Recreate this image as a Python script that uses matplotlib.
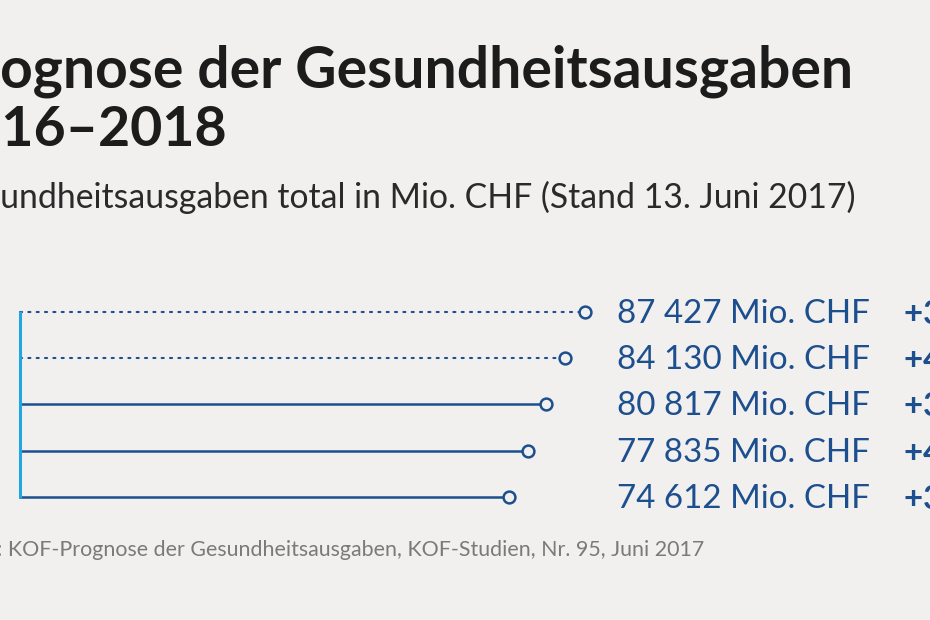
import matplotlib
matplotlib.use("Agg")
import matplotlib.pyplot as plt

years = ["2018", "2017", "2016", "2015", "2014"]
values = [87427, 84130, 80817, 77835, 74612]
labels = ["87 427 Mio. CHF", "84 130 Mio. CHF", "80 817 Mio. CHF", "77 835 Mio. CHF", "74 612 Mio. CHF"]
changes = ["+3,9 %", "+4,1 %", "+3,8 %", "+4,1 %", "+3,6 %"]
forecast = [True, True, False, False, False]

title1 = "KOF-Prognose der Gesundheitsausgaben"
title2 = "2016–2018"
subtitle = "Gesundheitsausgaben total in Mio. CHF (Stand 13. Juni 2017)"
source = "Quelle: KOF-Prognose der Gesundheitsausgaben, KOF-Studien, Nr. 95, Juni 2017"

BG = "#f1f0ef"
BLUE = "#1d4f8e"
CYAN = "#1ea7e1"
W, H = 930, 620

fig = plt.figure(figsize=(W / 100, H / 100), dpi=100, facecolor=BG)
ax = fig.add_axes([0, 0, 1, 1])
ax.set_facecolor(BG)
ax.axis("off")

# pixel <-> data mapping: value axis with baseline at left vertical line
px_per_val = 76 / 12815.0
x0_val = 74612 - 509 / px_per_val
ax.set_xlim(x0_val, x0_val + W / px_per_val)
ax.set_ylim(H, 0)  # y in pixel rows
base_val = x0_val + 20 / px_per_val

row_y = [312, 358, 404, 451, 497]

ax.plot([base_val, base_val], [row_y[0] - 1, row_y[-1] + 1], color=CYAN, lw=2.2,
        solid_capstyle="butt", zorder=3)
for v, y, fc in zip(values, row_y, forecast):
    r_val = 4.5 / px_per_val
    if fc:
        ax.plot([base_val, v - r_val], [y, y], color=BLUE, lw=1.5,
                linestyle=(0, (1, 3.0)), dash_capstyle="round", zorder=2)
    else:
        ax.plot([base_val, v - r_val], [y, y], color=BLUE, lw=1.8, zorder=2)
    ax.plot([v], [y], marker="o", ms=8.5, mfc=BG, mec=BLUE, mew=1.8, zorder=4)

for lab, ch, y in zip(labels, changes, row_y):
    ax.text(617 / W, 1 - (y + 2) / H, lab, transform=fig.transFigure, fontsize=23.9,
            family="Lato", color=BLUE, va="center", ha="left")
    ax.text(904 / W, 1 - (y + 2) / H, ch, transform=fig.transFigure, fontsize=23.9,
            family="Lato", fontweight="bold", color=BLUE, va="center", ha="left")

renderer = fig.canvas.get_renderer()


def cut_text(full, visible_start_char, x_vis_px, y_base_px, **kw):
    prefix = full[:visible_start_char]
    t = fig.text(0, 0, prefix, **kw)
    w = t.get_window_extent(renderer=renderer).width if prefix else 0
    t.remove()
    fig.text((x_vis_px - w) / W, 1 - y_base_px / H, full, va="baseline", ha="left", **kw)


cut_text(title1, 6, 0, 87, fontsize=41, family="Lato", fontweight="bold", color="#1c1c1c")
cut_text(title2, 2, 2, 146, fontsize=40, family="Lato", fontweight="bold", color="#1c1c1c")
cut_text(subtitle, 3, 0, 208, fontsize=24.3, family="Lato", color="#2a2a2a")
cut_text(source, 8, 8, 556, fontsize=15.4, family="Lato", color="#7a7a7a")

fig.savefig("out.png", dpi=100, facecolor=BG)
